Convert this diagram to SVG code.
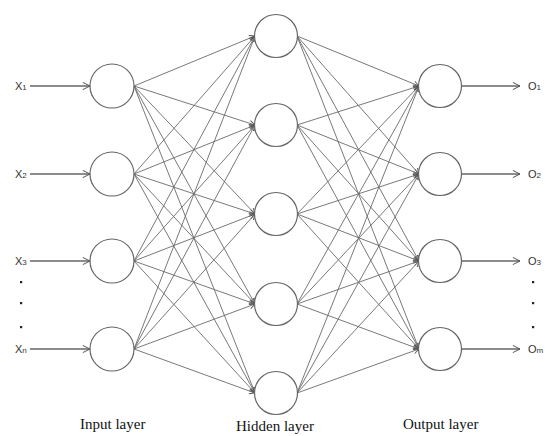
<svg xmlns="http://www.w3.org/2000/svg" width="545" height="436" viewBox="0 0 545 436">
<defs>
<marker id="ah" viewBox="0 0 10 10" refX="9" refY="5" markerWidth="7" markerHeight="7" orient="auto" markerUnits="userSpaceOnUse">
<polyline points="1,1 9,5 1,9" fill="none" stroke="#555" stroke-width="1.3"/>
</marker>
<marker id="ah2" viewBox="0 0 10 10" refX="9" refY="5" markerWidth="9" markerHeight="9" orient="auto" markerUnits="userSpaceOnUse">
<polyline points="1,1 9,5 1,9" fill="none" stroke="#555" stroke-width="1.1"/>
</marker>
</defs>
<style>
.n{fill:#fff;stroke:#666;stroke-width:1.2}
.c line{stroke:#6a6a6a;stroke-width:0.9;marker-end:url(#ah)}
.io line{stroke:#666;stroke-width:1.4;marker-end:url(#ah2)}
.lbl{font-family:"Liberation Sans",Arial,sans-serif;font-size:11px;fill:#333}
.sub{font-size:8px}
.ttl{font-family:"Liberation Serif","Times New Roman",serif;font-size:15px;fill:#111}
.dot{fill:#222}
</style>
<rect width="545" height="436" fill="#fff"/>
<g class="c" id="connectors">
<line x1="134" y1="86" x2="255" y2="36"/><line x1="134" y1="86" x2="255" y2="125"/><line x1="134" y1="86" x2="255" y2="214"/><line x1="134" y1="86" x2="255" y2="304"/><line x1="134" y1="86" x2="255" y2="393"/>
<line x1="134" y1="174" x2="255" y2="36"/><line x1="134" y1="174" x2="255" y2="125"/><line x1="134" y1="174" x2="255" y2="214"/><line x1="134" y1="174" x2="255" y2="304"/><line x1="134" y1="174" x2="255" y2="393"/>
<line x1="134" y1="261" x2="255" y2="36"/><line x1="134" y1="261" x2="255" y2="125"/><line x1="134" y1="261" x2="255" y2="214"/><line x1="134" y1="261" x2="255" y2="304"/><line x1="134" y1="261" x2="255" y2="393"/>
<line x1="134" y1="349" x2="255" y2="36"/><line x1="134" y1="349" x2="255" y2="125"/><line x1="134" y1="349" x2="255" y2="214"/><line x1="134" y1="349" x2="255" y2="304"/><line x1="134" y1="349" x2="255" y2="393"/>
<line x1="297" y1="36" x2="419" y2="86"/><line x1="297" y1="36" x2="419" y2="174"/><line x1="297" y1="36" x2="419" y2="261"/><line x1="297" y1="36" x2="419" y2="349"/>
<line x1="297" y1="125" x2="419" y2="86"/><line x1="297" y1="125" x2="419" y2="174"/><line x1="297" y1="125" x2="419" y2="261"/><line x1="297" y1="125" x2="419" y2="349"/>
<line x1="297" y1="214" x2="419" y2="86"/><line x1="297" y1="214" x2="419" y2="174"/><line x1="297" y1="214" x2="419" y2="261"/><line x1="297" y1="214" x2="419" y2="349"/>
<line x1="297" y1="304" x2="419" y2="86"/><line x1="297" y1="304" x2="419" y2="174"/><line x1="297" y1="304" x2="419" y2="261"/><line x1="297" y1="304" x2="419" y2="349"/>
<line x1="297" y1="393" x2="419" y2="86"/><line x1="297" y1="393" x2="419" y2="174"/><line x1="297" y1="393" x2="419" y2="261"/><line x1="297" y1="393" x2="419" y2="349"/>
</g>
<g class="io" id="io-arrows">
<line x1="30" y1="86" x2="90" y2="86"/><line x1="30" y1="174" x2="90" y2="174"/><line x1="30" y1="261" x2="90" y2="261"/><line x1="30" y1="349" x2="90" y2="349"/>
<line x1="462" y1="86" x2="520" y2="86"/><line x1="462" y1="174" x2="520" y2="174"/><line x1="462" y1="261" x2="520" y2="261"/><line x1="462" y1="349" x2="520" y2="349"/>
</g>
<g id="input-layer">
<g id="in1"><circle class="n" cx="112" cy="86" r="22"/></g>
<g id="in2"><circle class="n" cx="112" cy="174" r="22"/></g>
<g id="in3"><circle class="n" cx="112" cy="261" r="22"/></g>
<g id="in4"><circle class="n" cx="112" cy="349" r="22"/></g>
</g>
<g id="hidden-layer">
<g id="h1"><circle class="n" cx="276" cy="36" r="21.5"/></g>
<g id="h2"><circle class="n" cx="276" cy="125" r="21.5"/></g>
<g id="h3"><circle class="n" cx="276" cy="214" r="21.5"/></g>
<g id="h4"><circle class="n" cx="276" cy="304" r="21.5"/></g>
<g id="h5"><circle class="n" cx="276" cy="393" r="21.5"/></g>
</g>
<g id="output-layer">
<g id="o1"><circle class="n" cx="440" cy="86" r="21.5"/></g>
<g id="o2"><circle class="n" cx="440" cy="174" r="21.5"/></g>
<g id="o3"><circle class="n" cx="440" cy="261" r="21.5"/></g>
<g id="o4"><circle class="n" cx="440" cy="349" r="21.5"/></g>
</g>
<g id="labels">
<text class="lbl" x="15" y="90">X<tspan class="sub">1</tspan></text>
<text class="lbl" x="15" y="178">X<tspan class="sub">2</tspan></text>
<text class="lbl" x="15" y="265">X<tspan class="sub">3</tspan></text>
<text class="lbl" x="15" y="353">X<tspan class="sub">n</tspan></text>
<text class="lbl" x="528" y="90">O<tspan class="sub">1</tspan></text>
<text class="lbl" x="528" y="178">O<tspan class="sub">2</tspan></text>
<text class="lbl" x="528" y="265">O<tspan class="sub">3</tspan></text>
<text class="lbl" x="528" y="353">O<tspan class="sub">m</tspan></text>
<rect class="dot" x="20" y="281" width="2.2" height="2.2"/>
<rect class="dot" x="20" y="302" width="2.2" height="2.2"/>
<rect class="dot" x="20" y="326" width="2.2" height="2.2"/>
<rect class="dot" x="532" y="281" width="2.2" height="2.2"/>
<rect class="dot" x="532" y="302" width="2.2" height="2.2"/>
<rect class="dot" x="532" y="326" width="2.2" height="2.2"/>
<text class="ttl" x="80" y="429">Input layer</text>
<text class="ttl" x="236" y="431">Hidden layer</text>
<text class="ttl" x="403" y="429">Output layer</text>
</g>
</svg>
